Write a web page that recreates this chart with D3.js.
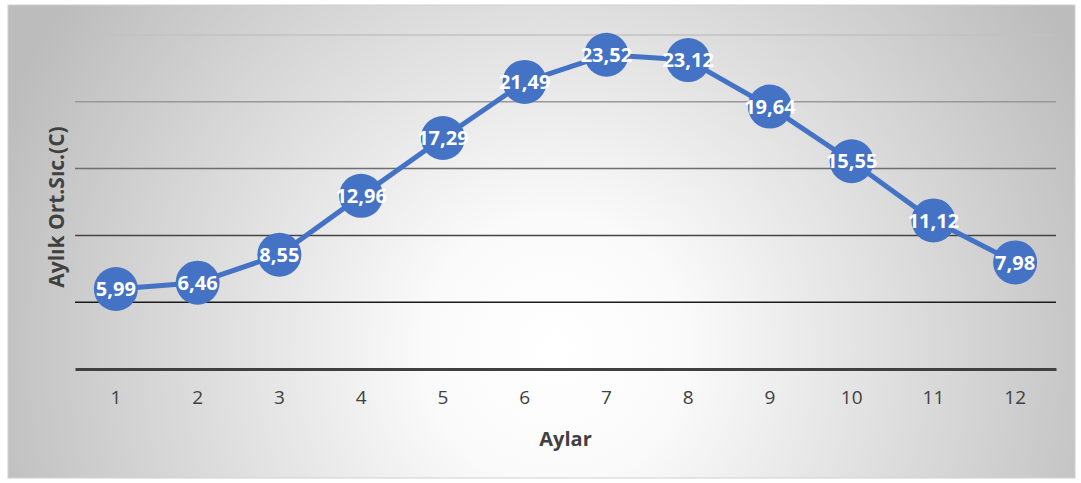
<!DOCTYPE html>
<html>
<head>
<meta charset="utf-8">
<script src="https://cdn.jsdelivr.net/npm/d3@7"></script>
<style>
  html, body { margin: 0; padding: 0; background: #ffffff; }
  svg { display: block; }
</style>
</head>
<body>
<svg id="chart" width="1081" height="483"></svg>
<script>
// Monthly mean temperatures
const months = ["1", "2", "3", "4", "5", "6", "7", "8", "9", "10", "11", "12"];
const temps = [5.99, 6.46, 8.55, 12.96, 17.29, 21.49, 23.52, 23.12, 19.64, 15.55, 11.12, 7.98];
const yTicks = [0, 5, 10, 15, 20, 25];

const FONT = "'Open Sans', 'Noto Sans', sans-serif";
const svg = d3.select("#chart");
const frame = { x: 8, y: 5, w: 1067, h: 473 };
const plot = { left: 75, right: 1056, top: 35, bottom: 369 };

// Radial background
const defs = svg.append("defs");
const grad = defs.append("radialGradient")
  .attr("id", "bg")
  .attr("gradientUnits", "userSpaceOnUse")
  .attr("cx", 555).attr("cy", 350).attr("r", 600);
grad.append("stop").attr("offset", "0%").attr("stop-color", "#ffffff");
grad.append("stop").attr("offset", "22%").attr("stop-color", "#fafafa");
grad.append("stop").attr("offset", "100%").attr("stop-color", "#bcbcbc");

svg.append("rect")
  .attr("x", frame.x).attr("y", frame.y)
  .attr("width", frame.w).attr("height", frame.h)
  .attr("fill", "url(#bg)")
  .attr("stroke", "#d0d0d0").attr("stroke-width", 1);

const x = d3.scaleBand().domain(months).range([plot.left, plot.right]).padding(0);
const y = d3.scaleLinear().domain([0, 25]).range([plot.bottom, plot.top]);

// Gridlines, shading darker toward the bottom
const gridColor = d3.scaleLinear().domain([25, 5]).range(["#c2c2c2", "#1a1a1a"]);
svg.append("g").selectAll("line")
  .data(yTicks.filter(t => t > 0))
  .join("line")
  .attr("x1", plot.left).attr("x2", plot.right)
  .attr("y1", d => y(d)).attr("y2", d => y(d))
  .attr("stroke", d => gridColor(d))
  .attr("stroke-width", 1.5);

// Category axis
const xAxis = svg.append("g")
  .attr("transform", `translate(0,${y(0)})`)
  .call(d3.axisBottom(x).tickSize(0).tickPadding(22));
xAxis.select(".domain").attr("stroke", "#404040").attr("stroke-width", 3);
xAxis.selectAll("text")
  .attr("fill", "#404040")
  .style("font-family", FONT)
  .style("font-size", "19px");

// Axis titles
svg.append("text")
  .attr("x", (plot.left + plot.right) / 2).attr("y", 446)
  .attr("text-anchor", "middle")
  .attr("fill", "#404040")
  .style("font-family", FONT)
  .style("font-weight", "bold")
  .style("font-size", "20px")
  .text("Aylar");

svg.append("text")
  .attr("transform", `translate(64,${207}) rotate(-90)`)
  .attr("text-anchor", "middle")
  .attr("fill", "#404040")
  .style("font-family", FONT)
  .style("font-weight", "bold")
  .style("font-size", "21px")
  .text("Aylık Ort.Sıc.(C)");

const cx = d => x(d.m) + x.bandwidth() / 2;
const data = months.map((m, i) => ({ m, v: temps[i] }));

// Line
svg.append("path")
  .datum(data)
  .attr("fill", "none")
  .attr("stroke", "#4472c4")
  .attr("stroke-width", 5)
  .attr("stroke-linejoin", "round")
  .attr("d", d3.line().x(cx).y(d => y(d.v)));

// Markers
svg.append("g").selectAll("circle")
  .data(data)
  .join("circle")
  .attr("cx", cx).attr("cy", d => y(d.v))
  .attr("r", 22)
  .attr("fill", "#4472c4");

// Value labels
const fmt = v => v.toFixed(2).replace(".", ",");
svg.append("g").selectAll("text")
  .data(data)
  .join("text")
  .attr("x", cx).attr("y", d => y(d.v))
  .attr("dy", "0.36em")
  .attr("text-anchor", "middle")
  .attr("fill", "#ffffff")
  .style("font-family", FONT)
  .style("font-weight", "bold")
  .style("font-size", "20px")
  .text(d => fmt(d.v));
</script>
</body>
</html>
